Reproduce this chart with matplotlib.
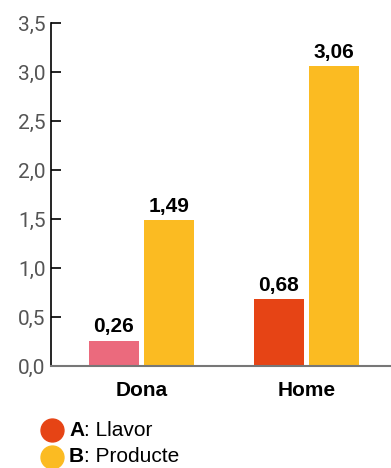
import matplotlib.pyplot as plt
import numpy as np

plt.rcParams['font.family'] = ['Liberation Sans', 'DejaVu Sans']

groups = ['Dona', 'Home']
llavor = [0.26, 0.68]
producte = [1.49, 3.06]
llavor_colors = ['#EB6A7D', '#E64415']
producte_color = '#FBBB22'
yticks = [0.0, 0.5, 1.0, 1.5, 2.0, 2.5, 3.0, 3.5]

fig = plt.figure(figsize=(3.91, 4.68), dpi=100)
ax = fig.add_axes([51 / 391, 102 / 468, 339 / 391, 343 / 468])

x = np.arange(len(groups))
w = 0.303
off = 0.1667
bars_a = ax.bar(x - off, llavor, w, color=llavor_colors)
bars_b = ax.bar(x + off, producte, w, color=producte_color)

for bars, vals in ((bars_a, llavor), (bars_b, producte)):
    for b, v in zip(bars, vals):
        ax.annotate(f'{v:.2f}'.replace('.', ','),
                    (b.get_x() + b.get_width() / 2, v),
                    xytext=(0, 6), textcoords='offset points',
                    ha='center', va='baseline', fontsize=15, fontweight='bold')

ax.set_xlim(-0.548, 1.506)
ax.set_ylim(0, 3.5)
ax.set_yticks(yticks)
ax.set_yticklabels([f'{t:.1f}'.replace('.', ',') for t in yticks],
                   family=['Roboto', 'DejaVu Sans'])
ax.tick_params(axis='y', direction='in', length=7, width=1.2, pad=4,
               labelsize=15, labelcolor='#555555')
ax.set_xticks(x)
ax.set_xticklabels(groups, fontsize=15, fontweight='bold')
ax.tick_params(axis='x', length=0, pad=11)

for s in ('top', 'right'):
    ax.spines[s].set_visible(False)
ax.spines['left'].set_linewidth(1.2)
ax.spines['bottom'].set_color('#777777')
ax.spines['bottom'].set_linewidth(1.5)

# legend with round swatches
legend_items = [('A', ': Llavor', '#E64415'), ('B', ': Producte', producte_color)]
for i, (key, label, col) in enumerate(legend_items):
    yf = (468 - 430 - 27 * i) / 468
    fig.add_artist(plt.Line2D([52 / 391], [yf], marker='o', markersize=16.5,
                              color=col, linestyle='none',
                              transform=fig.transFigure))
    t = fig.text(69 / 391, yf, key, fontsize=15, fontweight='bold',
                 va='center', ha='left')
    fig.canvas.draw()
    ax.annotate(label, xy=(1, 0.5), xycoords=t, va='center', ha='left',
                fontsize=15)

fig.savefig('out.png', dpi=100)
